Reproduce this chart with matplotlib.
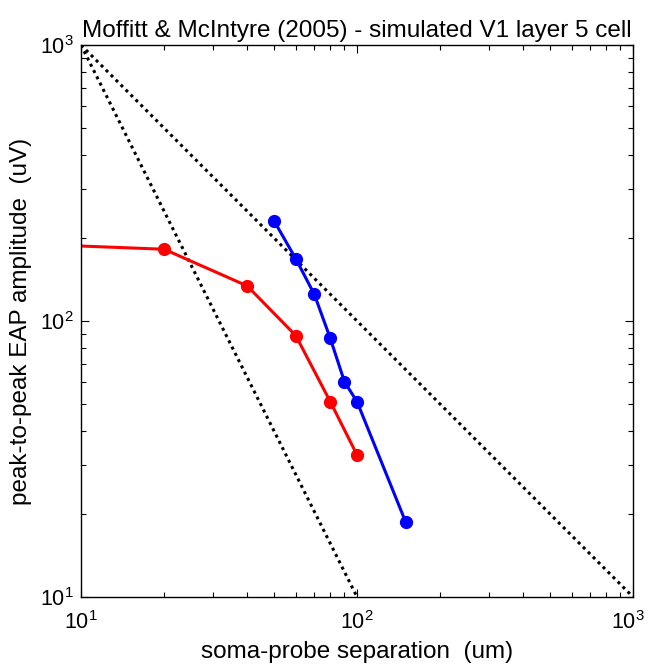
import numpy as np
import matplotlib
matplotlib.use("Agg")
import matplotlib.pyplot as plt
from matplotlib.ticker import FixedLocator, LogLocator
from matplotlib.transforms import ScaledTranslation

plt.rcParams["font.family"] = ["Liberation Sans", "DejaVu Sans"]
plt.rcParams["mathtext.fontset"] = "custom"
plt.rcParams["mathtext.rm"] = "Liberation Sans"
plt.rcParams["mathtext.it"] = "Liberation Sans"
plt.rcParams["mathtext.default"] = "regular"

# ---------- Data ----------
red_sep = [5, 20, 40, 60, 80, 100]
red_amp = [192, 182, 134, 88.5, 51, 32.7]

blue_sep = [50, 60, 70, 80, 90, 100, 150]
blue_amp = [231, 168, 125, 86.5, 60.3, 51, 18.7]

# reference slopes through (10, 1000)
ref1_x = [10, 1000]
ref1_y = [1000, 10]      # ~ 1/r
ref2_x = [10, 100]
ref2_y = [1000, 10]      # ~ 1/r^2

major_ticks = [10, 100, 1000]
major_labels = [r"$10^{1}$", r"$10^{2}$", r"$10^{3}$"]

fig = plt.figure(figsize=(6.48, 6.68), dpi=100)
ax = fig.add_axes([0.125, 0.1063, 0.852, 0.8263])

ax.plot(ref1_x, ref1_y, color="black", linestyle=(0, (1, 1.3)), linewidth=2.2)
ax.plot(ref2_x, ref2_y, color="black", linestyle=(0, (1, 1.3)), linewidth=2.2)

ax.plot(red_sep, red_amp, color="#ff0000", linewidth=2.2, marker="o",
        markersize=8.5, markerfacecolor="#ff0000", markeredgecolor="#ff0000")
ax.plot(blue_sep, blue_amp, color="#0000ff", linewidth=2.2, marker="o",
        markersize=8.5, markerfacecolor="#0000ff", markeredgecolor="#0000ff")

ax.set_xscale("log")
ax.set_yscale("log")
ax.set_xlim(10, 1000)
ax.set_ylim(10, 1000)

ax.xaxis.set_major_locator(FixedLocator(major_ticks))
ax.yaxis.set_major_locator(FixedLocator(major_ticks))
ax.set_xticklabels(major_labels)
ax.set_yticklabels(major_labels)
ax.xaxis.set_minor_locator(LogLocator(base=10, subs=np.arange(2, 10), numticks=20))
ax.yaxis.set_minor_locator(LogLocator(base=10, subs=np.arange(2, 10), numticks=20))

ax.tick_params(which="both", direction="in", top=True, right=True,
               labelsize=15.5, colors="black")
ax.tick_params(which="major", length=6, width=0.8)
ax.tick_params(which="minor", length=3.5, width=0.8)
ax.tick_params(axis="x", pad=10)
ax.tick_params(axis="y", pad=5)
for s in ax.spines.values():
    s.set_linewidth(1.0)

# nudge the rightmost x label so it stays inside the figure
last = ax.xaxis.get_major_ticks()[-1].label1
last.set_transform(last.get_transform() +
                   ScaledTranslation(-4 / 72, 0, fig.dpi_scale_trans))

ax.set_xlabel("soma-probe separation  (um)", fontsize=17.5, labelpad=5)
ax.set_ylabel("peak-to-peak EAP amplitude  (uV)", fontsize=17.5, labelpad=6)
ax.set_title("Moffitt & McIntyre (2005) - simulated V1 layer 5 cell",
             fontsize=17.5, pad=6)

fig.savefig("out.png", dpi=100, facecolor="white")
